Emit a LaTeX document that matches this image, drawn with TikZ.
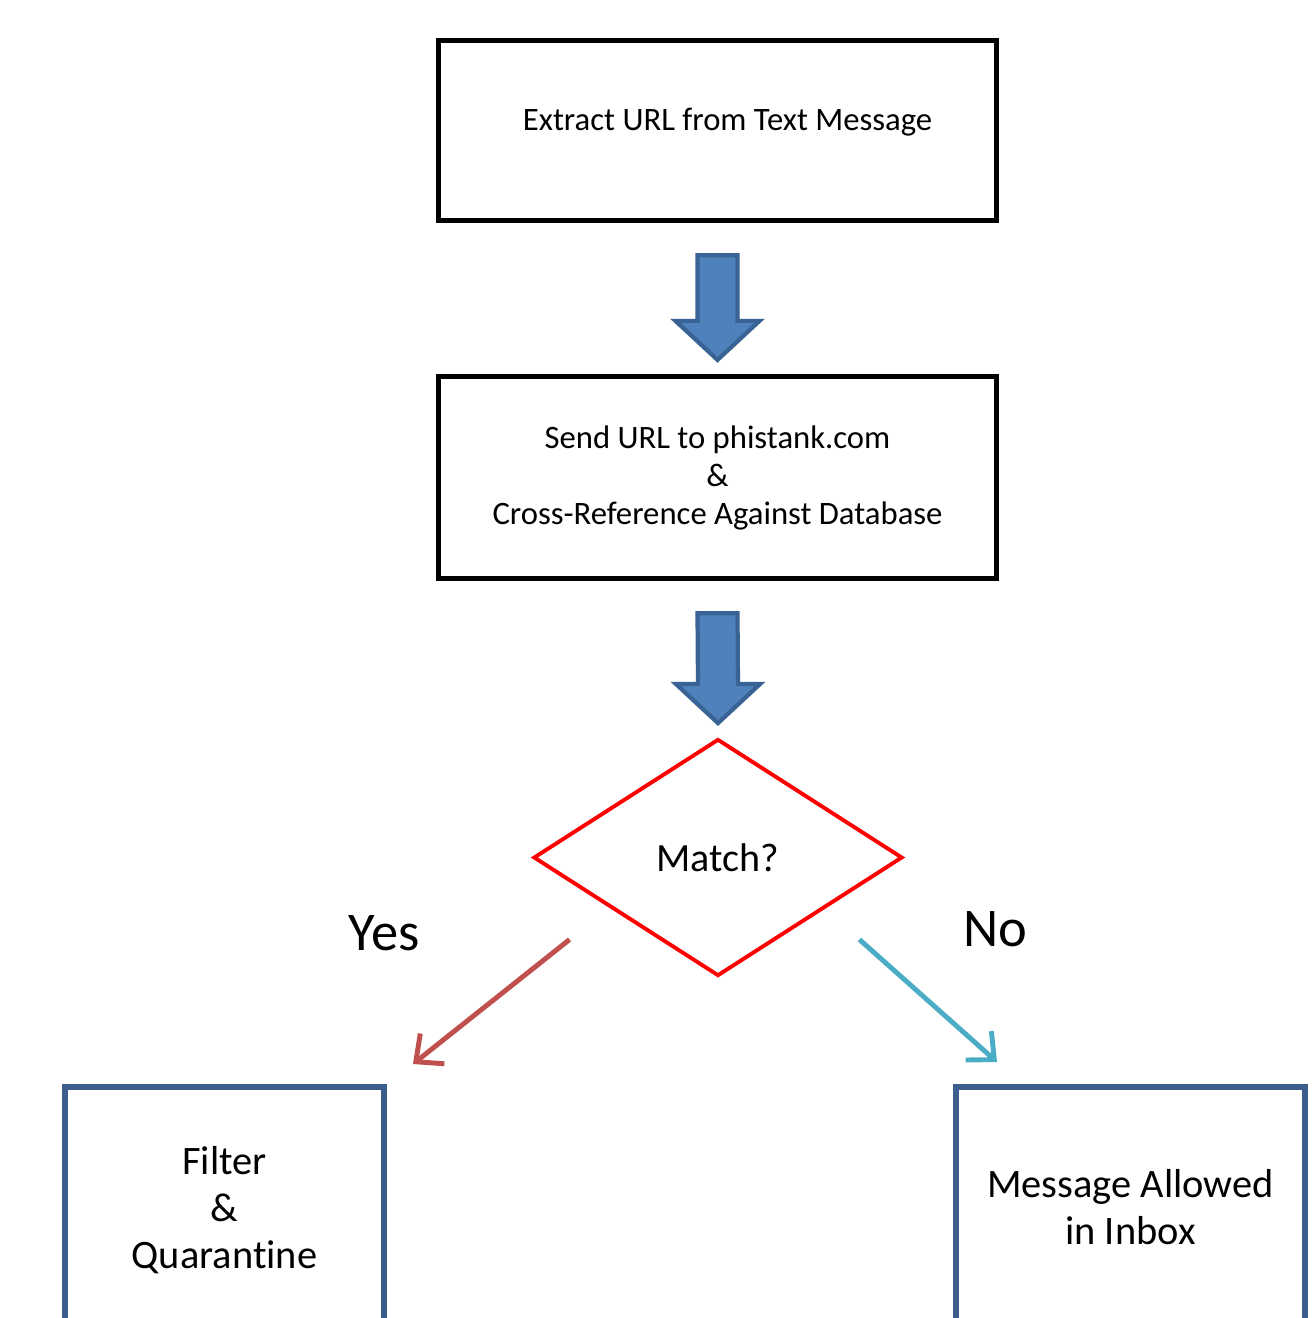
\documentclass[tikz,border=0pt]{standalone}
\usepackage{fontspec}
\setmainfont{Carlito}[Ligatures=NoCommon]
\usepackage{tikz}
\usetikzlibrary{positioning, shapes.geometric, calc, arrows.meta}

\definecolor{blockfill}{HTML}{4F81BD}
\definecolor{blockedge}{HTML}{3A6395}
\definecolor{yesred}{HTML}{C0504D}
\definecolor{noaqua}{HTML}{4BACC6}
\definecolor{resultedge}{HTML}{3B5E8C}

\begin{document}
\begin{tikzpicture}[
    stepbox/.style={draw=black, line width=1.5pt, minimum width=5.58cm, align=center,
      font=\fontsize{9.3}{10.8}\selectfont},
    decision/.style={diamond, draw=red, line width=1.1pt, minimum width=3.69cm,
      minimum height=2.37cm, inner sep=0pt, font=\fontsize{11.4}{13}\selectfont},
    resultbox/.style={draw=resultedge, line width=1.7pt, align=center,
      font=\fontsize{11.5}{13.4}\selectfont},
    branch/.style={line width=1.4pt, -{Straight Barb[length=6pt, width=11pt]}},
    answer/.style={font=\fontsize{15.5}{18}\selectfont}
  ]
    \useasboundingbox (0,0) rectangle (13.13,-13.18);
    \clip (0,0) rectangle (13.13,-13.18);

    % Steps of the check
    \node[stepbox, minimum height=1.80cm] (extract) at (7.175,-1.305)
      {\raisebox{0.22cm}{\hspace{0.2cm}Extract URL from Text Message}};
    \node[stepbox, minimum height=2.02cm] (send) at (7.175,-4.775)
      {Send URL to phistank.com\\ \&\\ Cross-Reference Against Database};
    \node[decision] (match) at (7.18,-8.575) {Match?};

    \node[resultbox, minimum width=3.19cm, minimum height=2.46cm] (filter) at (2.245,-12.10)
      {Filter\\ \&\\ Quarantine};
    \node[resultbox, minimum width=3.49cm, minimum height=2.41cm] (inbox) at (11.305,-12.075)
      {Message Allowed\\ in Inbox};

    % Block arrows between the steps
    \foreach \from/\to in {extract/send, send/match} {
      \path ($(\from.south)+(0,-0.32)$) coordinate (top)
            ($(\to.north)+(0,0.14)$) coordinate (tip);
      \filldraw[fill=blockfill, draw=blockedge, line width=1.2pt, line join=miter]
        ($(top)+(-0.2,0)$) -- ($(tip)+(-0.2,0.39)$) -- ($(tip)+(-0.42,0.39)$) -- (tip)
        -- ($(tip)+(0.42,0.39)$) -- ($(tip)+(0.2,0.39)$) -- ($(top)+(0.2,0)$) -- cycle;
    }

    % Yes / No branches
    \draw[branch, yesred] ($(match.west)+(0.38,-0.82)$) -- ($(filter.north east)+(0.26,0.20)$);
    \draw[branch, noaqua] ($(match.east)+(-0.45,-0.82)$) -- ($(inbox.north west)+(0.44,0.22)$);

    \node[answer] (yes) at (3.84,-9.33) {Yes};
    \node[answer] (no) at (9.95,-9.29) {No};
\end{tikzpicture}
\end{document}
